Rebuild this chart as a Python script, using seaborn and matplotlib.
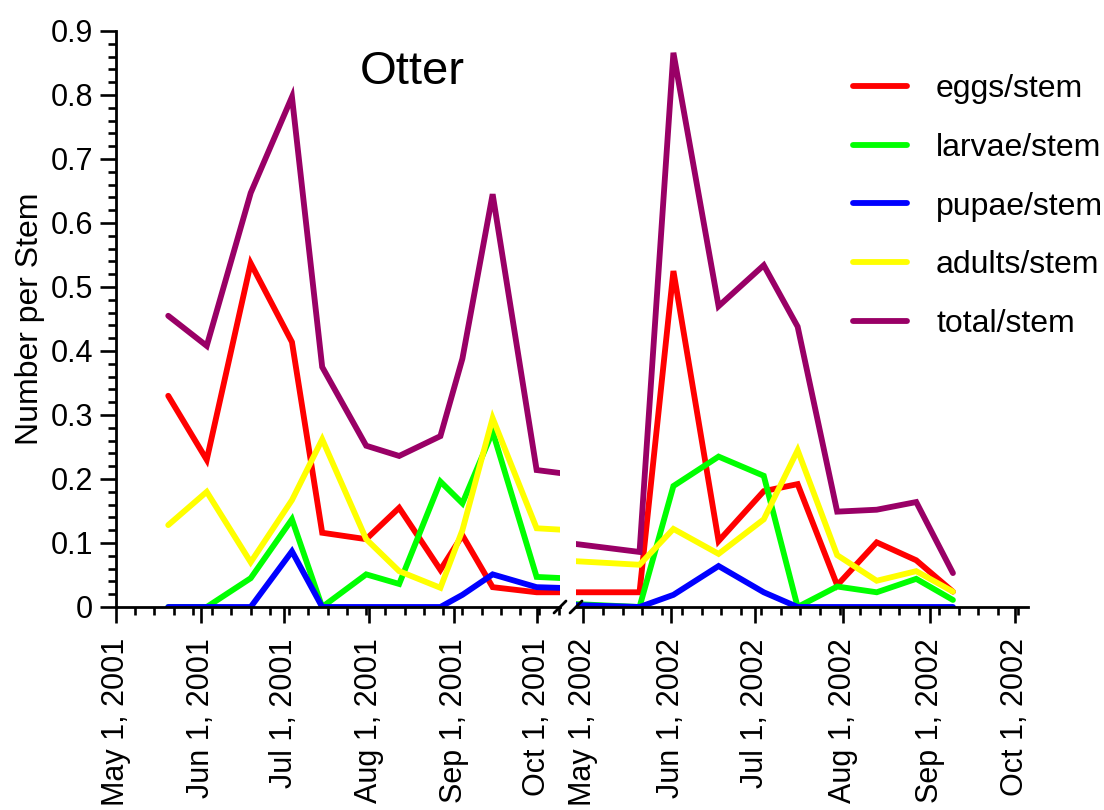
import pandas as pd
import matplotlib
matplotlib.use("Agg")
import matplotlib.pyplot as plt
import matplotlib.dates as mdates
from matplotlib.ticker import FixedLocator, MultipleLocator, FuncFormatter
import seaborn as sns

# Sampling dates at the Otter site
dates_2001 = ["2001-05-20", "2001-06-03", "2001-06-19", "2001-07-04", "2001-07-15",
              "2001-07-31", "2001-08-12", "2001-08-27", "2001-09-04", "2001-09-15",
              "2001-10-01"]
dates_2002 = ["2002-05-21", "2002-06-02", "2002-06-18", "2002-07-04", "2002-07-16",
              "2002-07-30", "2002-08-13", "2002-08-27", "2002-09-09"]

# Counts per stem for each life stage
eggs_2001 = [0.330, 0.230, 0.537, 0.414, 0.116, 0.106, 0.155, 0.058, 0.112, 0.031, 0.023]
larvae_2001 = [0.0, 0.0, 0.045, 0.137, 0.0, 0.051, 0.036, 0.196, 0.162, 0.274, 0.047]
pupae_2001 = [0.0, 0.0, 0.0, 0.087, 0.0, 0.0, 0.0, 0.0, 0.019, 0.051, 0.031]
adults_2001 = [0.128, 0.180, 0.070, 0.167, 0.262, 0.106, 0.056, 0.030, 0.120, 0.295, 0.123]
total_2001 = [0.455, 0.408, 0.647, 0.797, 0.375, 0.252, 0.236, 0.267, 0.388, 0.645, 0.214]

eggs_2002 = [0.023, 0.525, 0.103, 0.181, 0.192, 0.034, 0.101, 0.073, 0.024]
larvae_2002 = [0.0, 0.189, 0.235, 0.205, 0.0, 0.032, 0.023, 0.044, 0.011]
pupae_2002 = [0.0, 0.019, 0.064, 0.023, 0.0, 0.0, 0.0, 0.0, 0.0]
adults_2002 = [0.066, 0.122, 0.083, 0.137, 0.245, 0.081, 0.041, 0.056, 0.024]
total_2002 = [0.086, 0.866, 0.470, 0.534, 0.438, 0.149, 0.152, 0.164, 0.053]

stages = ["eggs/stem", "larvae/stem", "pupae/stem", "adults/stem", "total/stem"]
colors = ["#ff0000", "#00ff00", "#0000ff", "#ffff00", "#990066"]

y_ticks = [0.0, 0.1, 0.2, 0.3, 0.4, 0.5, 0.6, 0.7, 0.8, 0.9]
month_ticks_2001 = ["2001-05-01", "2001-06-01", "2001-07-01", "2001-08-01",
                    "2001-09-01", "2001-10-01"]
month_ticks_2002 = ["2002-05-01", "2002-06-01", "2002-07-01", "2002-08-01",
                    "2002-09-01", "2002-10-01"]

# Long-form table: one continuous series per stage across both seasons
series_2001 = [eggs_2001, larvae_2001, pupae_2001, adults_2001, total_2001]
series_2002 = [eggs_2002, larvae_2002, pupae_2002, adults_2002, total_2002]
rows = []
for stage, v1, v2 in zip(stages, series_2001, series_2002):
    for d, v in zip(dates_2001 + dates_2002, list(v1) + list(v2)):
        rows.append({"date": pd.Timestamp(d), "value": v, "stage": stage})
df = pd.DataFrame(rows)

sns.set_style("ticks")
plt.rcParams["font.family"] = ["Liberation Sans", "DejaVu Sans"]
plt.rcParams.update({
    "axes.linewidth": 2.0,
    "axes.edgecolor": "black",
    "axes.labelcolor": "black",
    "text.color": "black",
    "xtick.color": "black",
    "ytick.color": "black",
})

W, H = 1104, 810
fig = plt.figure(figsize=(W / 100, H / 100), dpi=100)
bottom = (H - 607) / H
height = (607 - 31) / H
ax1 = fig.add_axes([116 / W, bottom, (560 - 116) / W, height])
ax2 = fig.add_axes([576 / W, bottom, (1028 - 576) / W, height])

palette = dict(zip(stages, colors))
for ax in (ax1, ax2):
    sns.lineplot(data=df, x="date", y="value", hue="stage", hue_order=stages,
                 palette=palette, linewidth=4.2, estimator=None, legend=False, ax=ax)
    for ln in ax.get_lines():
        ln.set_solid_joinstyle("miter")
    ax.set_ylim(0, 0.9)
    ax.set_xlabel("")
    ax.set_ylabel("")
    for s in ("top", "right"):
        ax.spines[s].set_visible(False)
    ax.tick_params(axis="x", which="major", direction="out", length=11.5, width=1.9,
                   pad=11, labelsize=22, labelrotation=90)
    ax.tick_params(axis="x", which="minor", direction="out", length=5.5, width=1.9)

def date_label(v, pos):
    d = mdates.num2date(v)
    return f"{d:%b} {d.day}, {d.year}"

ax1.set_xlim(pd.Timestamp("2001-05-01"), pd.Timestamp("2001-10-09 12:00"))
ax2.set_xlim(pd.Timestamp("2002-04-28 12:00"), pd.Timestamp("2002-10-05 14:00"))

for ax, months, start in ((ax1, month_ticks_2001, "2001-05-01"),
                          (ax2, month_ticks_2002, "2002-05-01")):
    ax.xaxis.set_major_locator(FixedLocator(mdates.date2num(pd.to_datetime(months))))
    ax.xaxis.set_major_formatter(FuncFormatter(date_label))
    weeks = pd.date_range(start, periods=24, freq="7D")
    ax.xaxis.set_minor_locator(FixedLocator(mdates.date2num(weeks)))

# Left panel carries the value axis
ax1.set_yticks(y_ticks)
ax1.yaxis.set_major_formatter(FuncFormatter(lambda v, p: f"{v:g}"))
ax1.yaxis.set_minor_locator(MultipleLocator(0.02))
ax1.tick_params(axis="y", which="major", direction="out", length=11.5, width=1.9,
                pad=5, labelsize=22)
ax1.tick_params(axis="y", which="minor", direction="out", length=5.5, width=1.9)
ax1.set_ylabel("Number per Stem", fontsize=23, labelpad=4)

ax2.spines["left"].set_visible(False)
ax2.tick_params(axis="y", which="both", left=False, labelleft=False)

# Break marks on the date axis
kw = dict(color="black", linewidth=2, clip_on=False)
dx1, dy = 6 / 444, 6 / 576
ax1.plot([1 - dx1, 1 + dx1], [-dy, dy], transform=ax1.transAxes, **kw)
dx2 = 6 / 452
ax2.plot([-dx2, dx2], [-dy, dy], transform=ax2.transAxes, **kw)

fig.text(360 / W, (H - 84) / H, "Otter", fontsize=34, ha="left", va="baseline")

handles = ax1.get_lines()[:len(stages)]
fig.legend(handles, stages, loc="upper left", bbox_to_anchor=(853 / W, (H - 74) / H),
           frameon=False, handlelength=1.7, handletextpad=0.9, labelspacing=0.9,
           borderpad=0, borderaxespad=0, fontsize=23)

fig.savefig("out.png", dpi=100)
